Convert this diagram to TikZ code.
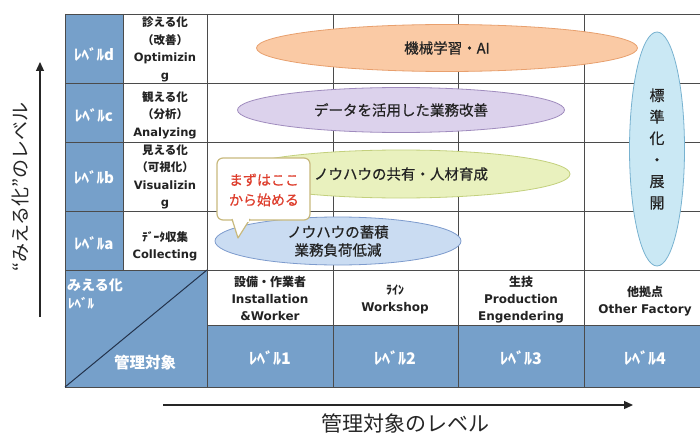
\documentclass[tikz,border=0pt]{standalone}
\usepackage{fontspec}
\setmainfont{Noto Sans CJK JP}
\newfontfamily\latf{DejaVu Sans}
\newfontfamily\medf[FakeBold=0.6]{Noto Sans CJK JP}
\usetikzlibrary{shapes.geometric,arrows.meta}
\definecolor{cellblue}{RGB}{118,160,202}
\definecolor{gridc}{RGB}{75,75,75}
\definecolor{navy}{RGB}{35,50,75}
\definecolor{orfill}{RGB}{250,202,165}
\definecolor{ordraw}{RGB}{232,160,110}
\definecolor{pufill}{RGB}{220,210,236}
\definecolor{pudraw}{RGB}{160,140,190}
\definecolor{grfill}{RGB}{233,241,190}
\definecolor{grdraw}{RGB}{195,208,125}
\definecolor{blfill}{RGB}{202,220,242}
\definecolor{bldraw}{RGB}{125,155,205}
\definecolor{vfill}{RGB}{202,232,244}
\definecolor{vdraw}{RGB}{120,178,208}
\definecolor{callc}{RGB}{200,185,125}
\definecolor{redtxt}{RGB}{222,62,45}
\definecolor{txt}{RGB}{35,35,35}
\tikzset{
  gridline/.style={draw=gridc, line width=0.9pt},
  lvl/.style={text=white, font=\bfseries\fontsize{15}{17}\selectfont, inner sep=0pt},
  rowlab/.style={text=txt, align=center, font=\bfseries\fontsize{11.5}{17.5}\selectfont, inner sep=0pt},
  collab/.style={text=txt, align=center, font=\bfseries\fontsize{12}{17}\selectfont, inner sep=0pt},
  bubble/.style={ellipse, inner sep=0pt, line width=0.8pt, text=txt, align=center, font=\medf\fontsize{14.5}{18}\selectfont},
  axisarrow/.style={draw=black!85, line width=1.3pt, -{Triangle[length=9pt,width=8pt]}},
  axislab/.style={text=black!85, font=\fontsize{19}{21}\selectfont, inner sep=0pt}
}
\begin{document}
\begin{tikzpicture}[x=1pt,y=-1pt]
\useasboundingbox (0,0) rectangle (700,433);
\fill[white] (0,0) rectangle (700,433);

% blue cells
\fill[cellblue] (65,14) rectangle (123,270);
\fill[cellblue] (65,270) rectangle (207,387);
\fill[cellblue] (207,325) rectangle (700,387);

% grid
\foreach \y in {14,83,142,211,270} {\draw[gridline] (65,\y) -- (700,\y);}
\draw[gridline] (207,325) -- (700,325);
\draw[gridline] (65,387) -- (700,387);
\draw[gridline] (65,14) -- (65,387);
\draw[gridline] (123,14) -- (123,270);
\foreach \x in {207,333,458,584} {\draw[gridline] (\x,14) -- (\x,387);}
\draw[draw=navy, line width=1pt] (65,387) -- (207,270);

% level labels (left column)
\node[lvl] (ld) at (94,54) {ﾚﾍﾞﾙd};
\node[lvl] (lc) at (94,115) {ﾚﾍﾞﾙc};
\node[lvl] (lb) at (94,177) {ﾚﾍﾞﾙb};
\node[lvl] (la) at (94,243) {ﾚﾍﾞﾙa};

% row labels
\node[rowlab] (rd) at (165,49.5) {診える化\\（改善）\\{\latf Optimizin}\\{\latf g}};
\node[rowlab] (rc) at (165,115) {観える化\\（分析）\\{\latf Analyzing}};
\node[rowlab] (rb) at (165,177) {見える化\\（可視化）\\{\latf Visualizin}\\{\latf g}};
\node[rowlab] (ra) at (165,246.5) {ﾃﾞｰﾀ収集\\{\latf Collecting}};

% corner cell
\node[text=white, anchor=west, font=\bfseries\fontsize{14}{16}\selectfont, inner sep=0pt] (cm) at (67,285) {みえる化};
\node[text=white, anchor=west, font=\bfseries\fontsize{13}{15}\selectfont, inner sep=0pt] (cl) at (68,303) {ﾚﾍﾞﾙ};
\node[text=white, font=\bfseries\fontsize{15.5}{17}\selectfont, inner sep=0pt] (ck) at (145,363) {管理対象};

% column labels
\node[collab] (c1) at (270,298.5) {設備・作業者\\{\latf Installation}\\{\latf \&Worker}};
\node[collab] (c2) at (395,299) {ﾗｲﾝ\\{\latf Workshop}};
\node[collab] (c3) at (521,299.5) {生技\\{\latf Production}\\{\latf Engendering}};
\node[collab] (c4) at (645,301) {他拠点\\{\latf Other Factory}};

% bottom levels
\node[lvl, font=\bfseries\fontsize{16}{18}\selectfont] (b1) at (270,358) {ﾚﾍﾞﾙ1};
\node[lvl, font=\bfseries\fontsize{16}{18}\selectfont] (b2) at (395,358) {ﾚﾍﾞﾙ2};
\node[lvl, font=\bfseries\fontsize{16}{18}\selectfont] (b3) at (521,358) {ﾚﾍﾞﾙ3};
\node[lvl, font=\bfseries\fontsize{16}{18}\selectfont] (b4) at (645,358) {ﾚﾍﾞﾙ4};

% bubbles
\node[bubble, fill=orfill, draw=ordraw, minimum width=381pt, minimum height=47pt] (eo) at (447,48) {機械学習・AI};
\node[bubble, fill=pufill, draw=pudraw, minimum width=327pt, minimum height=45pt] (ep) at (401,110) {データを活用した業務改善};
\node[bubble, fill=grfill, draw=grdraw, minimum width=338pt, minimum height=48pt] (eg) at (401,174) {ノウハウの共有・人材育成};
\node[bubble, fill=blfill, draw=bldraw, minimum width=246pt, minimum height=48pt] (eb) at (338,241) {ノウハウの蓄積\\業務負荷低減};
\node[bubble, fill=vfill, draw=vdraw, minimum width=55pt, minimum height=234pt, font=\medf\fontsize{15}{21.5}\selectfont] (ev) at (657,149) {標\\準\\化\\・\\展\\開};

% callout
\draw[draw=callc, fill=white, line width=1.2pt, rounded corners=6pt]
  (232,220) -- (217,220) -- (217,158) -- (310,158) -- (310,220) -- (250,220);
\draw[draw=callc, fill=white, line width=1.2pt, line join=round]
  (250,219) -- (238,238) -- (232,219);
\fill[white] (233.5,217) rectangle (248.5,222);
\node[text=redtxt, align=center, font=\medf\fontsize{14}{20}\selectfont, inner sep=0pt] (co) at (264,190) {まずはここ\\から始める};

% axes
\coordinate (ys) at (40,317);
\coordinate (ye) at (40,62);
\draw[axisarrow] (ys) -- (ye);
\node[axislab, rotate=90] (yl) at (20,187) {“みえる化”のレベル};
\coordinate (xs) at (163,405);
\coordinate (xe) at (633,405);
\draw[axisarrow] (xs) -- (xe);
\node[axislab, font=\fontsize{21}{23}\selectfont] (xl) at (405,423) {管理対象のレベル};
\end{tikzpicture}
\end{document}
